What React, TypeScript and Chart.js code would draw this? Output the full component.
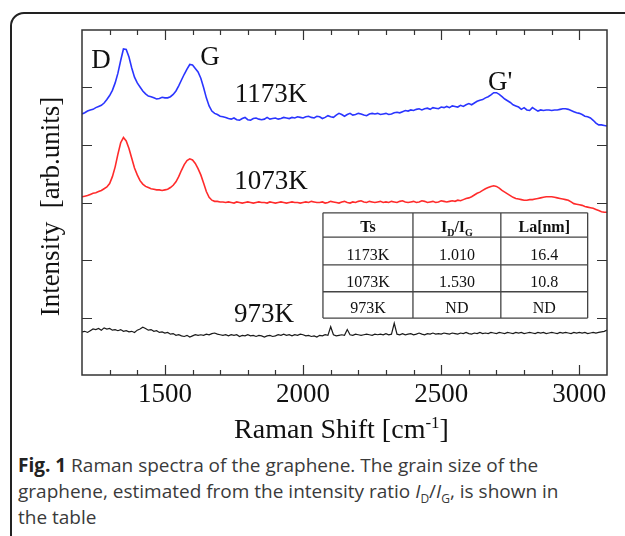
import React, { useEffect, useRef } from "react";
import { Chart, registerables } from "chart.js";

Chart.register(...registerables);

// Raman shift (cm^-1)
const ramanShift = [
  1200, 1210, 1220, 1230, 1240, 1250, 1260, 1270, 1280, 1290,
  1300, 1310, 1320, 1330, 1340, 1350, 1360, 1370, 1380, 1390,
  1400, 1410, 1420, 1430, 1440, 1450, 1460, 1470, 1480, 1490,
  1500, 1510, 1520, 1530, 1540, 1550, 1560, 1570, 1580, 1590,
  1600, 1610, 1620, 1630, 1640, 1650, 1660, 1670, 1680, 1690,
  1700, 1710, 1720, 1730, 1740, 1750, 1760, 1770, 1780, 1790,
  1800, 1810, 1820, 1830, 1840, 1850, 1860, 1870, 1880, 1890,
  1900, 1910, 1920, 1930, 1940, 1950, 1960, 1970, 1980, 1990,
  2000, 2010, 2020, 2030, 2040, 2050, 2060, 2070, 2080, 2090,
  2100, 2110, 2120, 2130, 2140, 2150, 2160, 2170, 2180, 2190,
  2200, 2210, 2220, 2230, 2240, 2250, 2260, 2270, 2280, 2290,
  2300, 2310, 2320, 2330, 2340, 2350, 2360, 2370, 2380, 2390,
  2400, 2410, 2420, 2430, 2440, 2450, 2460, 2470, 2480, 2490,
  2500, 2510, 2520, 2530, 2540, 2550, 2560, 2570, 2580, 2590,
  2600, 2610, 2620, 2630, 2640, 2650, 2660, 2670, 2680, 2690,
  2700, 2710, 2720, 2730, 2740, 2750, 2760, 2770, 2780, 2790,
  2800, 2810, 2820, 2830, 2840, 2850, 2860, 2870, 2880, 2890,
  2900, 2910, 2920, 2930, 2940, 2950, 2960, 2970, 2980, 2990,
  3000, 3010, 3020, 3030, 3040, 3050, 3060, 3070, 3080, 3090,
  3100,
];

// Intensity (arb. units, offset stacked)
const int1173K = [
  4.54, 4.56, 4.59, 4.61, 4.62, 4.65, 4.67, 4.69, 4.73, 4.79,
  4.86, 4.95, 5.08, 5.25, 5.47, 5.67, 5.66, 5.53, 5.34, 5.18,
  5.08, 5.01, 4.94, 4.89, 4.85, 4.84, 4.82, 4.80, 4.81, 4.83,
  4.82, 4.82, 4.84, 4.88, 4.94, 5.03, 5.13, 5.23, 5.32, 5.40,
  5.39, 5.33, 5.27, 5.16, 5.00, 4.82, 4.68, 4.59, 4.55, 4.53,
  4.50, 4.49, 4.48, 4.46, 4.45, 4.47, 4.44, 4.43, 4.46, 4.48,
  4.44, 4.43, 4.46, 4.47, 4.45, 4.44, 4.45, 4.48, 4.45, 4.46,
  4.47, 4.45, 4.46, 4.48, 4.47, 4.46, 4.48, 4.47, 4.49, 4.48,
  4.47, 4.49, 4.50, 4.48, 4.47, 4.50, 4.49, 4.46, 4.48, 4.51,
  4.49, 4.48, 4.52, 4.55, 4.53, 4.50, 4.53, 4.55, 4.52, 4.53,
  4.55, 4.54, 4.52, 4.51, 4.54, 4.55, 4.54, 4.55, 4.53, 4.54,
  4.55, 4.53, 4.54, 4.56, 4.57, 4.56, 4.58, 4.60, 4.59, 4.61,
  4.60, 4.62, 4.63, 4.61, 4.63, 4.64, 4.62, 4.65, 4.64, 4.63,
  4.66, 4.65, 4.67, 4.65, 4.68, 4.67, 4.66, 4.69, 4.67, 4.70,
  4.72, 4.70, 4.73, 4.76, 4.78, 4.79, 4.82, 4.84, 4.87, 4.91,
  4.91, 4.88, 4.84, 4.80, 4.77, 4.74, 4.70, 4.68, 4.66, 4.62,
  4.65, 4.61, 4.60, 4.65, 4.62, 4.59, 4.61, 4.60, 4.61, 4.61,
  4.60, 4.61, 4.61, 4.62, 4.63, 4.63, 4.62, 4.60, 4.58, 4.56,
  4.55, 4.53, 4.50, 4.49, 4.47, 4.43, 4.38, 4.35, 4.35, 4.34,
  4.33,
];

const int1073K = [
  3.10, 3.11, 3.12, 3.14, 3.16, 3.17, 3.19, 3.21, 3.24, 3.27,
  3.33, 3.45, 3.62, 3.84, 4.04, 4.13, 4.07, 3.94, 3.77, 3.60,
  3.48, 3.38, 3.32, 3.28, 3.26, 3.24, 3.23, 3.22, 3.22, 3.21,
  3.22, 3.23, 3.26, 3.30, 3.36, 3.45, 3.56, 3.66, 3.73, 3.76,
  3.74, 3.68, 3.59, 3.48, 3.34, 3.19, 3.09, 3.04, 3.02, 3.02,
  3.01, 3.01, 3.00, 3.01, 3.00, 2.99, 3.01, 3.00, 2.99, 3.00,
  3.01, 3.00, 2.99, 3.00, 3.01, 3.00, 3.00, 2.99, 3.01, 3.00,
  2.99, 3.00, 3.01, 3.00, 2.99, 3.00, 3.01, 3.00, 3.00, 2.99,
  3.00, 3.01, 3.00, 3.02, 3.01, 3.00, 3.00, 3.01, 2.99, 3.00,
  3.02, 3.01, 3.00, 2.99, 3.01, 3.02, 3.00, 2.99, 3.01, 3.00,
  3.02, 3.03, 3.01, 3.00, 3.02, 3.01, 3.00, 3.01, 3.02, 3.00,
  3.01, 3.00, 3.02, 3.01, 3.00, 3.02, 3.03, 3.01, 3.00, 3.01,
  3.02, 3.00, 3.01, 3.03, 3.02, 3.00, 3.01, 3.02, 3.00, 3.01,
  3.03, 3.02, 3.01, 3.02, 3.03, 3.02, 3.04, 3.03, 3.05, 3.07,
  3.08, 3.10, 3.13, 3.16, 3.18, 3.21, 3.24, 3.26, 3.28, 3.29,
  3.28, 3.25, 3.21, 3.18, 3.15, 3.12, 3.09, 3.07, 3.06, 3.05,
  3.04, 3.04, 3.05, 3.05, 3.06, 3.07, 3.08, 3.09, 3.10, 3.10,
  3.10, 3.09, 3.08, 3.07, 3.06, 3.05, 3.04, 3.01, 2.98, 2.97,
  2.96, 2.95, 2.93, 2.92, 2.91, 2.90, 2.88, 2.86, 2.84, 2.83,
  2.83,
];

const int973K = [
  0.75, 0.76, 0.74, 0.77, 0.80, 0.79, 0.81, 0.78, 0.82, 0.80,
  0.81, 0.78, 0.79, 0.77, 0.79, 0.76, 0.77, 0.75, 0.76, 0.74,
  0.78, 0.80, 0.83, 0.81, 0.78, 0.79, 0.76, 0.77, 0.74, 0.75,
  0.73, 0.74, 0.71, 0.72, 0.69, 0.70, 0.68, 0.67, 0.69, 0.66,
  0.68, 0.70, 0.69, 0.70, 0.69, 0.71, 0.70, 0.72, 0.73, 0.71,
  0.70, 0.69, 0.70, 0.68, 0.70, 0.69, 0.70, 0.67, 0.69, 0.68,
  0.70, 0.68, 0.69, 0.67, 0.69, 0.68, 0.66, 0.68, 0.69, 0.67,
  0.68, 0.70, 0.69, 0.71, 0.69, 0.70, 0.68, 0.70, 0.69, 0.71,
  0.70, 0.68, 0.69, 0.67, 0.68, 0.66, 0.69, 0.68, 0.70, 0.69,
  0.84, 0.70, 0.68, 0.69, 0.70, 0.69, 0.79, 0.70, 0.69, 0.71,
  0.70, 0.69, 0.70, 0.71, 0.70, 0.69, 0.71, 0.70, 0.71, 0.70,
  0.72, 0.70, 0.71, 0.90, 0.71, 0.70, 0.72, 0.70, 0.71, 0.72,
  0.70, 0.71, 0.73, 0.71, 0.70, 0.72, 0.71, 0.73, 0.71, 0.72,
  0.71, 0.73, 0.72, 0.71, 0.73, 0.72, 0.71, 0.73, 0.72, 0.74,
  0.72, 0.71, 0.73, 0.72, 0.74, 0.72, 0.73, 0.72, 0.74, 0.73,
  0.72, 0.74, 0.73, 0.72, 0.74, 0.73, 0.72, 0.74, 0.73, 0.74,
  0.72, 0.73, 0.74, 0.73, 0.72, 0.74, 0.73, 0.74, 0.72, 0.73,
  0.74, 0.73, 0.72, 0.74, 0.73, 0.74, 0.73, 0.72, 0.74, 0.73,
  0.74, 0.73, 0.74, 0.72, 0.73, 0.74, 0.73, 0.74, 0.75, 0.76,
  0.78,
];

const seriesNames = ["1173K", "1073K", "973K"];
const xMajorTicks = [1500, 2000, 2500, 3000];

// Annotation texts anchored at [x (cm^-1), y (intensity)] of their baseline centre
const annotationTexts = ["D", "G", "G'", "1173K", "1073K", "973K"];
const annotationX = [1269, 1663, 2713, 1884, 1884, 1859];
const annotationY = [5.34, 5.39, 4.96, 4.75, 3.24, 0.92];

// Inset table
const tableTs = ["1173K", "1073K", "973K"];
const tableRatio = ["1.010", "1.530", "ND"];
const tableLa = ["16.4", "10.8", "ND"];

const SERIF = '"Liberation Serif", "Times New Roman", serif';

type Part = { t: string; sub?: boolean; sup?: boolean };

function drawRich(
  ctx: CanvasRenderingContext2D,
  parts: Part[],
  cx: number,
  baseline: number,
  size: number,
  weight: string
) {
  const small = Math.round(size * 0.6);
  const fontFor = (p: Part) =>
    `${weight} ${p.sub || p.sup ? small : size}px ${SERIF}`;
  let total = 0;
  const widths = parts.map((p) => {
    ctx.font = fontFor(p);
    const w = ctx.measureText(p.t).width;
    total += w;
    return w;
  });
  let x = cx - total / 2;
  ctx.textAlign = "left";
  ctx.textBaseline = "alphabetic";
  parts.forEach((p, i) => {
    ctx.font = fontFor(p);
    let y = baseline;
    if (p.sub) y += size * 0.22;
    if (p.sup) y -= size * 0.36;
    ctx.fillText(p.t, x, y);
    x += widths[i];
  });
}

const decorPlugin = {
  id: "decor",
  afterDraw(chart: any) {
    const { ctx, chartArea, scales } = chart;
    const xs = scales.x;
    const ys = scales.y;
    const { left, right, top, bottom } = chartArea;
    ctx.save();
    // frame
    ctx.strokeStyle = "#333";
    ctx.lineWidth = 1.5;
    ctx.strokeRect(left, top, right - left, bottom - top);
    // x ticks (inward, bottom and top), y ticks (inward, left and right)
    ctx.lineWidth = 1.2;
    ctx.beginPath();
    for (let v = xs.min + 100; v < xs.max; v += 100) {
      const px = Math.round(xs.getPixelForValue(v)) + 0.5;
      const len = v % 500 === 0 ? 10 : 5;
      ctx.moveTo(px, bottom);
      ctx.lineTo(px, bottom - len);
      ctx.moveTo(px, top);
      ctx.lineTo(px, top + len);
    }
    for (let v = ys.min + 1; v < ys.max; v += 1) {
      const py = Math.round(ys.getPixelForValue(v)) + 0.5;
      ctx.moveTo(left, py);
      ctx.lineTo(left + 10, py);
      ctx.moveTo(right, py);
      ctx.lineTo(right - 10, py);
    }
    ctx.stroke();

    // annotations
    ctx.fillStyle = "#111";
    annotationTexts.forEach((t, i) => {
      drawRich(
        ctx,
        [{ t }],
        xs.getPixelForValue(annotationX[i]),
        ys.getPixelForValue(annotationY[i]),
        27,
        "normal"
      );
    });

    // table
    const tL = xs.getPixelForValue(2072);
    const tR = xs.getPixelForValue(3030);
    const tT = ys.getPixelForValue(2.82);
    const tB = ys.getPixelForValue(0.99);
    const W = tR - tL;
    const H = tB - tT;
    const colEdges = [tL, tL + W * 0.34, tL + W * 0.672, tR];
    const rowEdges = [tT, tT + H * 0.23, tT + H * 0.495, tT + H * 0.75, tB];
    ctx.fillStyle = "#fff";
    ctx.fillRect(tL, tT, W, H);
    ctx.strokeStyle = "#444";
    ctx.lineWidth = 1.3;
    ctx.beginPath();
    rowEdges.forEach((y) => {
      ctx.moveTo(tL, y);
      ctx.lineTo(tR, y);
    });
    colEdges.forEach((x) => {
      ctx.moveTo(x, tT);
      ctx.lineTo(x, tB);
    });
    ctx.stroke();
    ctx.fillStyle = "#111";
    const cc = [0, 1, 2].map((i) => (colEdges[i] + colEdges[i + 1]) / 2);
    const header: Part[][] = [
      [{ t: "Ts" }],
      [{ t: "I" }, { t: "D", sub: true }, { t: "/I" }, { t: "G", sub: true }],
      [{ t: "La[nm]" }],
    ];
    header.forEach((parts, c) =>
      drawRich(ctx, parts, cc[c], rowEdges[1] - 5, 16, "bold")
    );
    tableTs.forEach((ts, r) => {
      const base = rowEdges[r + 2] - 5;
      drawRich(ctx, [{ t: ts }], cc[0], base, 16, "normal");
      drawRich(ctx, [{ t: tableRatio[r] }], cc[1], base, 16, "normal");
      drawRich(ctx, [{ t: tableLa[r] }], cc[2], base, 16, "normal");
    });

    // axis titles
    drawRich(
      ctx,
      [{ t: "Raman Shift [cm" }, { t: "-1", sup: true }, { t: "]" }],
      (left + right) / 2 - 3,
      438,
      28,
      "normal"
    );
    ctx.save();
    ctx.translate(52, (top + bottom) / 2 + 4);
    ctx.rotate(-Math.PI / 2);
    ctx.font = `27px ${SERIF}`;
    ctx.textAlign = "center";
    ctx.textBaseline = "middle";
    ctx.fillText("Intensity  [arb.units]", 0, 0);
    ctx.restore();
    ctx.restore();
  },
};

export default function App() {
  const canvasRef = useRef<HTMLCanvasElement | null>(null);

  useEffect(() => {
    if (!canvasRef.current) return;
    const series = [int1173K, int1073K, int973K];
    const colors = ["#2a35ff", "#ff2b2b", "#1a1a1a"];
    const widths = [1.6, 1.6, 1.2];
    const chart = new Chart(canvasRef.current, {
      type: "line",
      data: {
        datasets: series.map((vals, i) => ({
          label: seriesNames[i],
          data: ramanShift.map((x, j) => ({ x, y: vals[j] })),
          borderColor: colors[i],
          borderWidth: widths[i],
          pointRadius: 0,
          tension: 0,
          fill: false,
        })),
      },
      options: {
        responsive: false,
        animation: false,
        layout: { padding: { top: 30, right: 18, left: 0, bottom: 0 } },
        plugins: {
          legend: { display: false },
          tooltip: { enabled: false },
        },
        scales: {
          x: {
            type: "linear",
            min: 1200,
            max: 3100,
            grid: { display: false, drawTicks: false },
            border: { display: false },
            afterBuildTicks: (s: any) => {
              s.ticks = xMajorTicks.map((v) => ({ value: v }));
            },
            afterFit: (s: any) => {
              s.height = 75;
            },
            ticks: {
              autoSkip: false,
              maxRotation: 0,
              padding: 4,
              color: "#111",
              font: { family: SERIF, size: 27 },
              callback: (v: any) => String(v),
            },
          },
          y: {
            type: "linear",
            min: 0,
            max: 6,
            grid: { display: false, drawTicks: false },
            border: { display: false },
            ticks: { display: false },
            afterFit: (s: any) => {
              s.width = 82;
            },
          },
        },
      },
      plugins: [decorPlugin],
    });
    return () => chart.destroy();
  }, []);

  return (
    <div
      style={{
        position: "absolute",
        left: 0,
        top: 0,
        width: 625,
        height: 536,
        overflow: "hidden",
        background: "#fff",
      }}
    >
      <div
        style={{
          position: "absolute",
          left: 10,
          top: 12,
          width: 720,
          height: 620,
          border: "2px solid #222",
          borderRadius: 14,
        }}
      />
      <canvas
        ref={canvasRef}
        width={625}
        height={450}
        style={{ position: "absolute", left: 0, top: 0, width: 625, height: 450 }}
      />
      <div
        style={{
          position: "absolute",
          left: 18,
          top: 452,
          whiteSpace: "nowrap",
          fontFamily: '"Open Sans", sans-serif',
          fontSize: 19,
          lineHeight: "26px",
          color: "#3a3a3a",
        }}
      >
        <b style={{ color: "#222" }}>Fig. 1</b> Raman spectra of the graphene. The grain size of the
        <br />
        graphene, estimated from the intensity ratio <i>I</i>
        <sub style={{ fontSize: 12, lineHeight: 0 }}>D</sub>/<i>I</i>
        <sub style={{ fontSize: 12, lineHeight: 0 }}>G</sub>, is shown in
        <br />
        the table
      </div>
    </div>
  );
}
